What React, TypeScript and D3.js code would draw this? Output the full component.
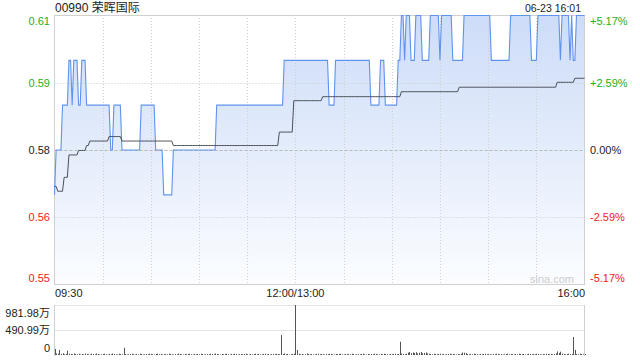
import * as d3 from 'd3';
import React from 'react';

const title = '00990 荣晖国际';
const stamp = '06-23 16:01';

// price level changes: [minute from 09:30, price]
const priceRuns: [number, number][] = [
    [0, 0.57], [1, 0.58], [5, 0.59], [9, 0.6], [11, 0.59], [12, 0.6], [15, 0.59],
    [17, 0.6], [20, 0.59], [35, 0.58], [37, 0.59], [42, 0.58], [54, 0.59], [63, 0.58],
    [68, 0.57], [74, 0.58], [101, 0.59], [143, 0.6], [171, 0.59], [175, 0.6], [197, 0.59],
    [203, 0.6], [206, 0.59], [214, 0.6], [216, 0.61], [218, 0.6], [219, 0.61], [222, 0.6],
    [225, 0.61], [229, 0.6], [234, 0.61], [240, 0.6], [241, 0.61], [248, 0.6], [255, 0.61],
    [272, 0.6], [284, 0.61], [297, 0.6], [301, 0.61], [315, 0.6], [316, 0.61], [321, 0.6],
    [322, 0.61], [323, 0.6], [325, 0.61],
];

// average price level changes
const avgRuns: [number, number][] = [
    [0, 0.5719], [2, 0.5708], [6, 0.5739], [9, 0.5789], [15, 0.5799], [20, 0.581],
    [22, 0.582], [34, 0.583], [42, 0.582], [74, 0.581], [140, 0.584], [149, 0.591],
    [167, 0.5919], [216, 0.593], [252, 0.594], [313, 0.5951], [324, 0.596],
];

// volume per minute, in 万
const volumes = [
    118, 30, 25, 100, 20, 35, 15, 20, 85, 25,
    20, 15, 30, 20, 15, 25, 10, 20, 15, 30,
    20, 15, 10, 25, 20, 15, 30, 20, 10, 15,
    20, 25, 15, 10, 20, 15, 30, 20, 15, 10,
    25, 20, 15, 143, 20, 10, 15, 20, 25, 15,
    10, 20, 15, 25, 20, 10, 15, 20, 15, 25,
    20, 15, 10, 20, 25, 15, 20, 10, 15, 20,
    15, 25, 20, 15, 10, 20, 15, 25, 20, 15,
    10, 20, 15, 20, 25, 15, 10, 20, 15, 20,
    15, 25, 20, 10, 15, 20, 15, 25, 20, 15,
    30, 20, 15, 10, 20, 15, 20, 25, 15, 10,
    20, 15, 25, 20, 10, 15, 20, 15, 20, 25,
    15, 10, 20, 15, 20, 25, 15, 20, 10, 15,
    20, 25, 15, 20, 10, 15, 20, 15, 25, 20,
    15, 393, 20, 30, 15, 20, 10, 15, 20, 25,
    982, 100, 25, 15, 20, 10, 15, 30, 20, 15,
    20, 15, 10, 20, 25, 15, 20, 15, 10, 20,
    15, 25, 20, 15, 10, 20, 15, 20, 25, 15,
    10, 20, 15, 20, 15, 25, 20, 10, 15, 20,
    15, 20, 25, 15, 10, 20, 15, 20, 15, 25,
    20, 15, 10, 20, 15, 25, 20, 15, 10, 20,
    15, 20, 25, 15, 20, 261, 30, 20, 15, 25,
    45, 60, 35, 50, 40, 55, 30, 45, 60, 35,
    40, 50, 30, 25, 20, 15, 25, 20, 15, 20,
    25, 15, 20, 10, 15, 20, 25, 15, 20, 15,
    10, 20, 15, 25, 50, 45, 40, 20, 15, 20,
    15, 25, 20, 15, 10, 20, 15, 20, 25, 15,
    20, 15, 10, 20, 15, 25, 20, 15, 20, 10,
    15, 20, 25, 15, 20, 15, 10, 20, 15, 25,
    20, 15, 20, 10, 15, 25, 20, 15, 20, 15,
    25, 20, 15, 10, 20, 15, 25, 20, 15, 20,
    15, 20, 30, 70, 40, 65, 25, 20, 15, 20,
    25, 15, 20, 353, 100, 20, 15, 25, 20, 15,
    20,
];

const priceTicks = [0.61, 0.595, 0.58, 0.565, 0.55];
const priceLabels = ['0.61', '0.59', '0.58', '0.56', '0.55'];
const pctLabels = ['+5.17%', '+2.59%', '0.00%', '-2.59%', '-5.17%'];
const tickColors = ['#22b022', '#22b022', '#222', '#f02020', '#f02020'];
const timeTicks = [0, 150, 330];
const timeLabels = ['09:30', '12:00/13:00', '16:00'];
const gridMinutes = [30, 60, 90, 120, 150, 180, 210, 240, 270, 300];
const volTicks = [981.98, 490.99, 0];
const volLabels = ['981.98万', '490.99万', '0'];

const FONT = '"Liberation Sans", Arial, "Noto Sans CJK SC", sans-serif';

function expand(runs: [number, number][], n: number) {
    const out: { m: number; v: number }[] = [];
    let k = 0;
    for (let m = 0; m < n; m++) {
        while (k + 1 < runs.length && runs[k + 1][0] <= m) k++;
        out.push({ m, v: runs[k][1] });
    }
    return out;
}

const App: React.FC = () => {
    const n = volumes.length;
    const x = d3.scaleLinear().domain([0, 330]).range([54.5, 584.5]);
    const y = d3.scaleLinear().domain([0.55, 0.61]).range([284.5, 15.5]);
    const yv = d3.scaleLinear().domain([0, 981.98]).range([355, 305]);

    const prices = expand(priceRuns, n);
    const avgs = expand(avgRuns, n);

    const line = d3
        .line<{ m: number; v: number }>()
        .x((d) => x(d.m))
        .y((d) => y(d.v));
    const area = d3
        .area<{ m: number; v: number }>()
        .x((d) => x(d.m))
        .y0(y(0.55))
        .y1((d) => y(d.v));

    const labelY = (i: number) => {
        const yy = y(priceTicks[i]);
        if (i === 0) return yy + 9;
        if (i === priceTicks.length - 1) return yy - 3;
        return yy + 4;
    };

    return (
        <svg
            width={640}
            height={360}
            style={{ position: 'absolute', left: 0, top: 0, display: 'block' }}
            fontFamily={FONT}
        >
            <defs>
                <linearGradient id="fill" gradientUnits="userSpaceOnUse" x1="0" y1="15" x2="0" y2="285">
                    <stop offset="0%" stopColor="#cddcf8" />
                    <stop offset="100%" stopColor="#fbfdff" />
                </linearGradient>
            </defs>

            <text x={55} y={12} fontSize={12} fill="#222">{title}</text>
            <text x={581} y={12} fontSize={10.5} fill="#222" textAnchor="end">{stamp}</text>

            <path d={area(prices) || ''} fill="url(#fill)" />

            {gridMinutes.map((m) => (
                <line key={m} x1={Math.round(x(m)) + 0.5} x2={Math.round(x(m)) + 0.5} y1={15} y2={284}
                    stroke="#cfcfcf" strokeDasharray="1,2" />
            ))}
            {priceTicks.slice(1, 4).map((p, i) => (
                <line key={p} x1={54.5} x2={584.5} y1={Math.round(y(p)) + 0.5} y2={Math.round(y(p)) + 0.5}
                    stroke={i === 1 ? '#b8b8b8' : '#cfcfcf'} strokeDasharray={i === 1 ? '3,2' : '1,2'} />
            ))}
            <rect x={54.5} y={15.5} width={530} height={269} fill="none" stroke="#d0d0d0" />

            <path d={line(prices) || ''} fill="none" stroke="#5e93ee" strokeWidth={1.1} />
            <path d={line(avgs) || ''} fill="none" stroke="#4a4f58" strokeWidth={1} />

            {priceTicks.map((p, i) => (
                <g key={p} fontSize={11} fill={tickColors[i]}>
                    <text x={50} y={labelY(i)} textAnchor="end">{priceLabels[i]}</text>
                    <text x={590} y={labelY(i)}>{pctLabels[i]}</text>
                </g>
            ))}

            <text x={574} y={283} fontSize={11} fill="#cccccc" textAnchor="end">sina.com</text>

            {timeTicks.map((m, i) => (
                <text key={m} x={i === 0 ? 55 : i === 2 ? 585 : x(m)} y={297} fontSize={11} fill="#222"
                    textAnchor={i === 0 ? 'start' : i === 2 ? 'end' : 'middle'}>
                    {timeLabels[i]}
                </text>
            ))}

            {volTicks.slice(0, 2).map((v) => (
                <line key={v} x1={54.5} x2={584.5} y1={Math.round(yv(v)) + 0.5} y2={Math.round(yv(v)) + 0.5}
                    stroke="#c8c8c8" strokeDasharray="1,1" />
            ))}
            <line x1={54.5} x2={54.5} y1={305} y2={356} stroke="#d0d0d0" />
            <line x1={584.5} x2={584.5} y1={305} y2={356} stroke="#d0d0d0" />
            {volumes.map((v, m) => (
                <line key={m} x1={Math.round(x(m)) + 0.5} x2={Math.round(x(m)) + 0.5} y1={yv(0)} y2={yv(v)}
                    stroke="#555" strokeWidth={1} />
            ))}
            {volTicks.map((v, i) => (
                <text key={v} x={50} y={i === 0 ? yv(v) + 12 : i === 2 ? yv(v) - 3 : yv(v) + 4}
                    fontSize={11} fill="#222" textAnchor="end">
                    {volLabels[i]}
                </text>
            ))}
        </svg>
    );
};

export default App;
